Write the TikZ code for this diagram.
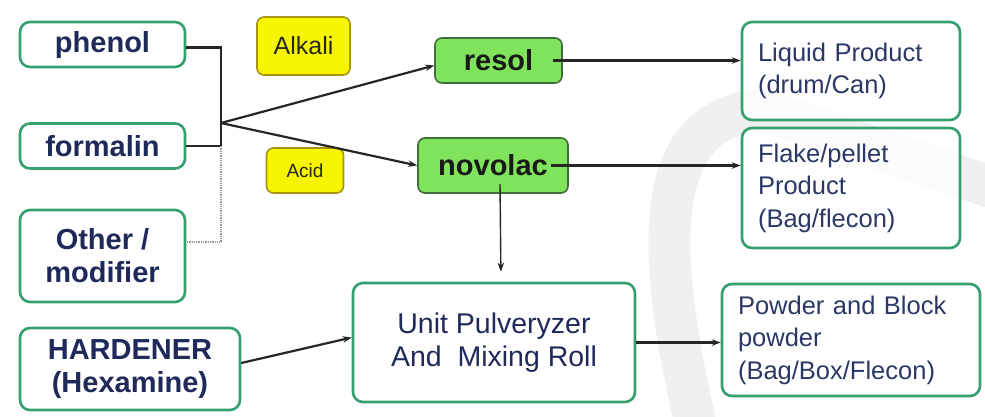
\documentclass[tikz,border=0pt]{standalone}
\usepackage{fontspec}
\setmainfont{Liberation Sans}
\usetikzlibrary{arrows.meta,calc}
\definecolor{navy}{HTML}{1F2A5A}
\definecolor{navytwo}{HTML}{2B3866}
\definecolor{boxgreen}{HTML}{34A06F}
\definecolor{resfill}{HTML}{80E35C}
\definecolor{resdraw}{HTML}{3F6E38}
\definecolor{catfill}{HTML}{F8F500}
\definecolor{catdraw}{HTML}{A89410}
\definecolor{wmark}{HTML}{F0F0F0}
\tikzset{
  lbox/.style={draw=boxgreen, line width=2.6pt, rounded corners=10pt, fill=white,
    align=center, inner sep=0pt, text=navy, font=\fontsize{29}{33}\selectfont\bfseries},
  rbox/.style={draw=boxgreen, line width=2.6pt, rounded corners=10pt, fill=white, fill opacity=0.75, text opacity=1,
    align=left, inner xsep=16pt, inner ysep=0pt, text=navytwo, font=\fontsize{25.5}{32.5}\selectfont},
  resbox/.style={draw=resdraw, line width=1.6pt, rounded corners=7pt, fill=resfill,
    align=center, inner sep=0pt, text=black!90, font=\fontsize{29}{33}\selectfont\bfseries},
  catbox/.style={draw=catdraw, line width=1.6pt, rounded corners=7pt, fill=catfill,
    align=center, inner sep=0pt, text=black!85},
  conn/.style={draw=black!85, line width=2.2pt},
  arr/.style={draw=black!85, line width=2.2pt, -{Stealth[length=9pt,width=6.5pt]}},
  dotline/.style={draw=black!40, line width=1.3pt, densely dotted}
}
\begin{document}
\begin{tikzpicture}[x=1pt,y=-1pt]
\useasboundingbox (0,0) rectangle (985,416);
\fill[white] (0,0) rectangle (985,416);
% faint watermark band
\draw[line width=42pt, wmark, line join=round] (697,430) .. controls (655,250) and (650,120) .. (760,110) -- (1000,190);

% left inputs
\node[lbox, minimum width=165pt, minimum height=45pt] (phenol) at (102.5,44.5) {phenol};
\node[lbox, minimum width=165pt, minimum height=45pt] (formalin) at (102.5,146) {formalin};
\node[lbox, minimum width=165pt, minimum height=92pt] (other) at (102.5,256) {Other /\\modifier};
\node[lbox, minimum width=220pt, minimum height=82pt] (hardener) at (130,369) {HARDENER\\(Hexamine)};

% catalysts
\node[catbox, minimum width=93pt, minimum height=58pt, font=\fontsize{25}{29}\selectfont] (alkali) at (303.5,46) {Alkali};
\node[catbox, minimum width=77pt, minimum height=45pt, font=\fontsize{19}{22}\selectfont] (acid) at (305,170.5) {Acid};

% resins
\node[resbox, minimum width=127pt, minimum height=45pt] (resol) at (498.5,60.5) {resol};
\node[resbox, minimum width=150pt, minimum height=55pt] (novolac) at (493,165.5) {novolac};

% processing
\node[lbox, minimum width=282pt, minimum height=119pt, font=\fontsize{28.5}{32.5}\selectfont] (unit) at (494,342.5) {Unit Pulveryzer\\And~~Mixing Roll};

% products
\node[rbox, text width=186pt, minimum height=98pt] (liquid) at (851,71) {Liquid Product\\(drum/Can)};
\node[rbox, text width=186pt, minimum height=120pt] (flake) at (851,188) {Flake/pellet\\Product\\(Bag/flecon)};
\node[rbox, text width=226pt, minimum height=112pt] (powder) at (851,340) {Powder and Block\\powder\\(Bag/Box/Flecon)};

% connectors
\coordinate (J) at (221,123);
\draw[conn] ([yshift=-3pt]phenol.east) -- ([yshift=-3pt]phenol.east -| J) |- (formalin.east);
\draw[dotline] (J |- formalin.east) |- ([yshift=14pt]other.east);
\draw[arr] (J) -- ([yshift=-5pt]resol.west);
\draw[arr] (J) -- (novolac.west);
\draw[arr] ([xshift=-10pt]resol.east) -- (resol.east -| liquid.west);
\draw[arr] ([xshift=-18pt]novolac.east) -- (novolac.east -| flake.west);
\draw[arr, line width=1.4pt, shorten >=10pt] ([xshift=7pt,yshift=10pt]novolac.south) -- ([xshift=7pt]unit.north);
\draw[arr] ([yshift=6pt]hardener.east) -- ([yshift=5pt]unit.west);
\draw[arr] (unit.east) -- (unit.east -| powder.west);
\end{tikzpicture}
\end{document}
